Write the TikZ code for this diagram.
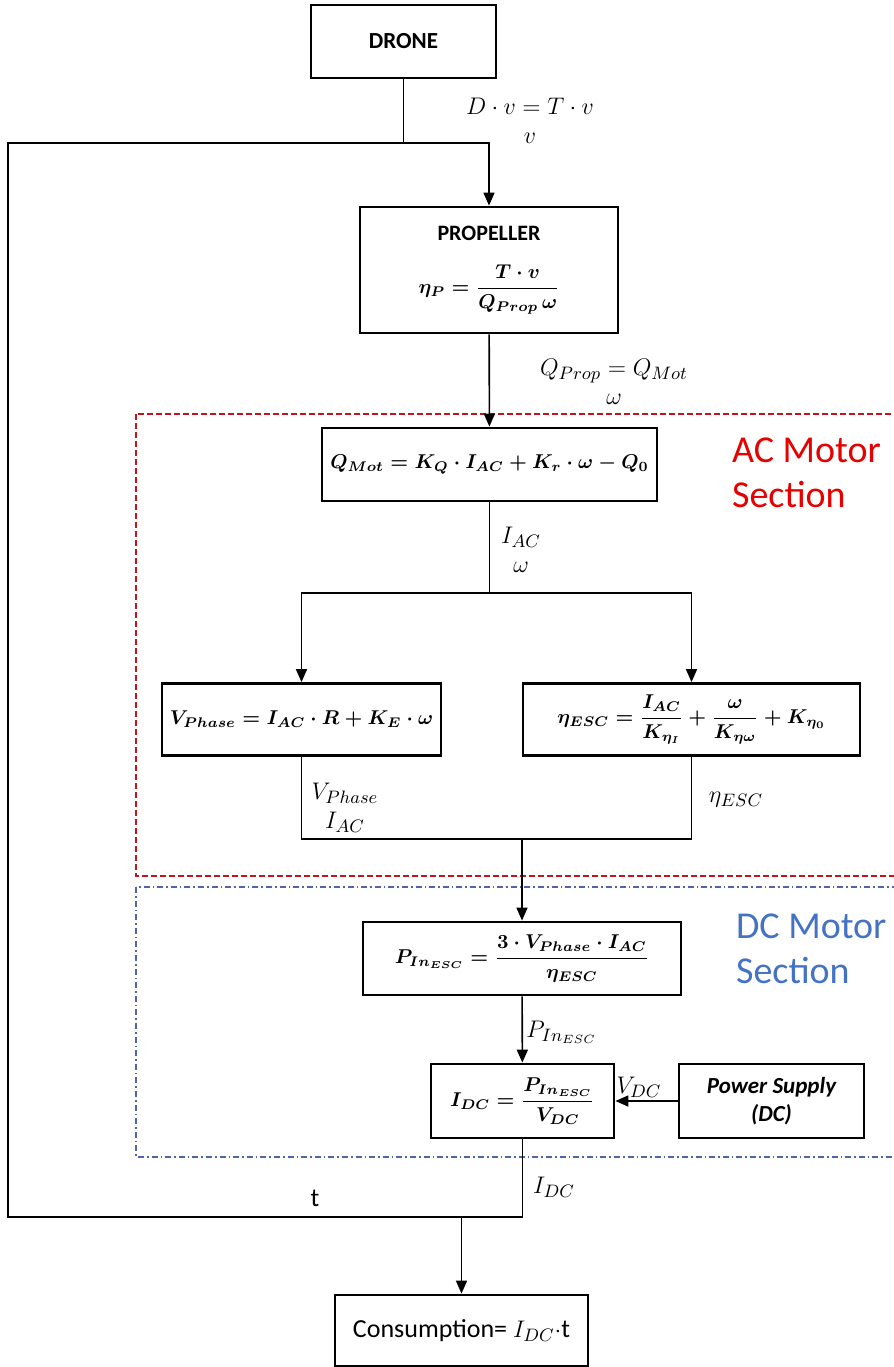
\documentclass[tikz,border=0pt]{standalone}
\usepackage{fontspec}
\setmainfont{Carlito}
\usepackage{amsmath}
\usepackage{bm}
\usetikzlibrary{arrows.meta}
\definecolor{acred}{RGB}{230,0,0}
\definecolor{acdash}{RGB}{192,20,30}
\definecolor{dcblue}{RGB}{68,114,196}
\definecolor{dcdash}{RGB}{80,100,170}

\begin{document}
\begin{tikzpicture}[x=0.5pt, y=-0.5pt, >={Triangle[length=6.5pt,width=5.5pt]},
  blk/.style={draw, line width=1.4pt, inner sep=0pt, align=center,
    font=\fontsize{10.3}{12}\selectfont\bfseries\boldmath},
  conn/.style={line width=0.8pt},
  lbl/.style={font=\fontsize{12.5}{14.5}\selectfont, align=center, inner sep=1pt},
  sect/.style={font=\fontsize{19}{22.5}\selectfont, align=left, anchor=west}]

  \useasboundingbox (0,0) rectangle (894,1367);

  % section frames
  \draw[acdash, line width=0.7pt, dash pattern=on 3pt off 1.5pt] (136,414) rectangle (920,876);
  \draw[dcdash, line width=0.7pt, dash pattern=on 3pt off 1.5pt on 0.8pt off 1.5pt] (136,887) rectangle (920,1157);
  \node[sect, text=acred] (acsec) at (725,473) {AC Motor\\Section};
  \node[sect, text=dcblue] (dcsec) at (729,949) {DC Motor\\Section};

  % blocks
  \node[blk, minimum width=92.5pt, minimum height=36.5pt, font=\fontsize{11.5}{13}\selectfont\bfseries] (drone) at (403.5,41.5) {DRONE};
  \node[blk, minimum width=129pt, minimum height=63pt] (prop) at (489,270)
    {{\fontsize{11}{13}\selectfont PROPELLER}\\[11pt]$\eta_P=\dfrac{T\cdot v}{Q_{Prop}\,\omega}$};
  \node[blk, minimum width=167.5pt, minimum height=36.5pt] (qmot) at (489.5,464.5)
    {$Q_{Mot}=K_Q\cdot I_{AC}+K_r\cdot\omega-Q_0$};
  \node[blk, minimum width=139.5pt, minimum height=36pt] (vph) at (301.5,719.5)
    {$V_{Phase}=I_{AC}\cdot R+K_E\cdot\omega$};
  \node[blk, minimum width=168.5pt, minimum height=36pt] (esc) at (691.5,719.5)
    {$\eta_{ESC}=\dfrac{I_{AC}}{K_{\eta_I}}+\dfrac{\omega}{K_{\eta\omega}}+K_{\eta_0}$};
  \node[blk, minimum width=159pt, minimum height=36.5pt] (pin) at (522,958.5)
    {$P_{In_{ESC}}=\dfrac{3\cdot V_{Phase}\cdot I_{AC}}{\eta_{ESC}}$};
  \node[blk, minimum width=91.5pt, minimum height=37pt] (idc) at (522.5,1101)
    {$I_{DC}=\dfrac{P_{In_{ESC}}}{V_{DC}}$};
  \node[blk, minimum width=92.5pt, minimum height=37pt,
    font=\fontsize{11.5}{14}\selectfont\bfseries\itshape] (psup) at (771.5,1101) {Power Supply\\(DC)};
  \node[blk, minimum width=126.5pt, minimum height=35.5pt,
    font=\fontsize{13}{15}\selectfont] (cons) at (461.5,1330.5) {Consumption=~$I_{DC}$$\cdot$t};

  % labels on the links
  \node[lbl] (lvel) at (530,121) {$D\cdot v=T\cdot v$\\$v$};
  \node[lbl] (ltorq) at (614,382) {$Q_{Prop}=Q_{Mot}$\\$\omega$};
  \node[lbl] (lcur) at (521,549.5) {$I_{AC}$\\$\omega$};
  \node[lbl] (lphase) at (345,808) {$V_{Phase}$\\$I_{AC}$};
  \node[lbl] (leff) at (736,800) {$\eta_{ESC}$};
  \node[lbl, anchor=west] (lpin) at (524,1032) {$P_{In_{ESC}}$};
  \node[lbl] (lvdc) at (639,1087) {$V_{DC}$};
  \node[lbl] (lidc) at (554,1187) {$I_{DC}$};
  \node[lbl, font=\fontsize{13}{15}\selectfont] (ltime) at (315,1198) {t};

  % links
  \coordinate (jtop) at (403.5,143);
  \coordinate (lft) at (8,143);
  \coordinate (lftb) at (8,1217);
  \coordinate (jbot) at (522.5,1217);
  \coordinate (jsplit) at (489.5,593);
  \coordinate (jmid) at (522,839);

  \draw[conn] (drone) -- (jtop);
  \draw[conn,->] (jtop) -| (prop);
  \draw[conn] (jtop) -- (lft) -- (lftb) -- (jbot);
  \draw[conn,->] (prop) -- (qmot);
  \draw[conn] (qmot) -- (jsplit);
  \draw[conn,->] (jsplit) -| (vph);
  \draw[conn,->] (jsplit) -| (esc);
  \draw[conn] (vph) |- (jmid) -| (esc);
  \draw[conn,->] (jmid) -- (pin);
  \draw[conn,->] (pin) -- (idc);
  \draw[conn,->] (psup) -- (idc);
  \draw[conn] (idc) -- (jbot);
  \draw[conn,->] (cons.north |- jbot) -- (cons);
\end{tikzpicture}
\end{document}
